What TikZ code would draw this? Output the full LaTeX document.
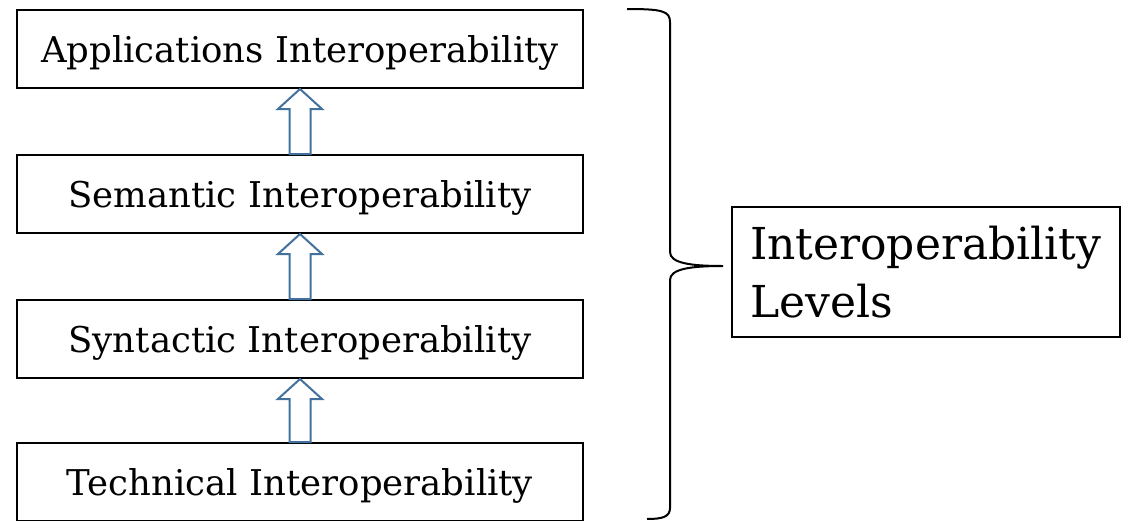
\documentclass[tikz,border=0pt]{standalone}
\usepackage{fontspec}
\setmainfont{DejaVu Serif}
\usetikzlibrary{calc}
\definecolor{arrowblue}{HTML}{41719C}
\tikzset{
  x=1pt, y=1pt,
  level/.style={draw=black, line width=2pt, fill=white, minimum width=566pt,
    minimum height=78pt, inner sep=0pt, text height=26pt, text depth=0pt,
    font=\fontsize{35.5}{42}\selectfont},
  groupbox/.style={draw=black, line width=1.6pt, minimum width=388pt,
    minimum height=130pt, inner xsep=18pt, inner ysep=0pt, text width=352pt,
    align=left, font=\fontsize{44}{58}\selectfont},
  hollow/.style={draw=arrowblue, line width=2pt, fill=white, line join=miter},
  bracket/.style={draw=black, line width=2pt}
}
% hollow block arrow from the top of #1 up to the bottom of #2
\newcommand\blockarrow[2]{%
  \draw[hollow] let \p1=(#1.north), \p2=(#2.south) in
    (\x1-10.5,\y1) -- (\x1-10.5,\y2-20) -- (\x1-22,\y2-20) -- (\x2,\y2)
    -- (\x1+22,\y2-20) -- (\x1+10.5,\y2-20) -- (\x1+10.5,\y1) -- cycle;}
\begin{document}
\begin{tikzpicture}
\useasboundingbox (0,0) rectangle (1122,-520);
\node[level] (app) at (300,-49)  {Applications Interoperability};
\node[level] (sem) at (300,-194) {Semantic Interoperability};
\node[level] (syn) at (300,-339) {Syntactic Interoperability};
\node[level] (tec) at (300,-482) {Technical Interoperability};

\blockarrow{sem}{app}
\blockarrow{syn}{sem}
\blockarrow{tec}{syn}

\node[groupbox] (lev) at (926,-272) {Interoperability\\Levels};

% right curly brace grouping the four levels
\coordinate (btop) at (627,-9);
\coordinate (btip) at (723,-266);
\coordinate (bbot) at (647,-519);
\draw[bracket] (btop) .. controls (662,-9) and (670,-11) .. (670,-22)
  -- (670,-252) .. controls (670,-263) and (690,-266) .. (btip)
  .. controls (690,-266) and (670,-269) .. (670,-280)
  -- (670,-508) .. controls (670,-517) and (662,-519) .. (bbot);
\end{tikzpicture}
\end{document}
